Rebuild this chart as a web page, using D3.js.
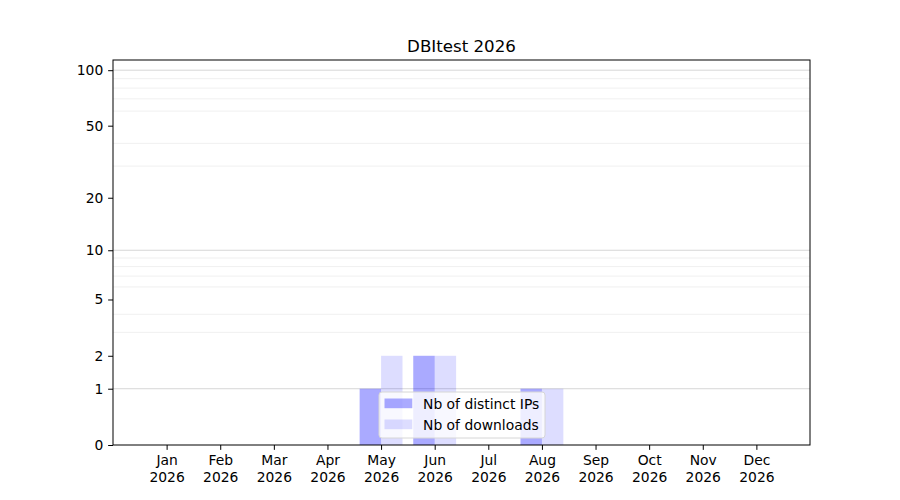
<!DOCTYPE html>
<html>
<head>
<meta charset="utf-8">
<script src="https://cdn.jsdelivr.net/npm/d3@7"></script>
<style>
  body { margin: 0; background: #fff; }
  svg { font-family: "DejaVu Sans", sans-serif; }
</style>
</head>
<body>
<div id="chart"></div>
<script>
// chart data
const title = 'DBItest 2026';
const months = ['Jan', 'Feb', 'Mar', 'Apr', 'May', 'Jun', 'Jul', 'Aug', 'Sep', 'Oct', 'Nov', 'Dec'];
const year = '2026';
const distinctIPs = [0, 0, 0, 0, 1, 2, 0, 1, 0, 0, 0, 0];
const downloads = [0, 0, 0, 0, 2, 2, 0, 1, 0, 0, 0, 0];
const yTicks = [0, 1, 2, 5, 10, 20, 50, 100];
const yMinor = [3, 4, 6, 7, 8, 9, 30, 40, 60, 70, 80, 90];
const yMajorGrid = [1, 10, 100];
const seriesNames = ['Nb of distinct IPs', 'Nb of downloads'];

const width = 900, height = 500;
const margin = {top: 60, right: 90, bottom: 55, left: 113};
const fs = 13.89;

const svg = d3.select('#chart').append('svg')
  .attr('width', width).attr('height', height);

// x is month index, y is log10(v + 1)
const x = d3.scaleLinear().domain([-1, 12]).range([margin.left, width - margin.right]);
const yl = d3.scaleLinear().domain([0, Math.log10(114.5)]).range([height - margin.bottom, margin.top]);
const y = v => yl(Math.log10(v + 1));
const barW = 0.4;

// grid
svg.append('g').selectAll('line.minor').data(yMinor).join('line')
  .attr('x1', margin.left).attr('x2', width - margin.right)
  .attr('y1', d => y(d)).attr('y2', d => y(d))
  .attr('stroke', '#ececec').attr('stroke-width', 0.8);
svg.append('g').selectAll('line.major').data(yMajorGrid).join('line')
  .attr('x1', margin.left).attr('x2', width - margin.right)
  .attr('y1', d => y(d)).attr('y2', d => y(d))
  .attr('stroke', '#cccccc').attr('stroke-width', 0.8);

// bars
const bars = svg.append('g');
bars.selectAll('rect.ip').data(distinctIPs).join('rect')
  .attr('x', (d, i) => x(i - barW)).attr('width', x(barW) - x(0))
  .attr('y', d => y(d)).attr('height', d => y(0) - y(d))
  .attr('fill', 'blue').attr('fill-opacity', 0.333);
bars.selectAll('rect.dl').data(downloads).join('rect')
  .attr('x', (d, i) => x(i)).attr('width', x(barW) - x(0))
  .attr('y', d => y(d)).attr('height', d => y(0) - y(d))
  .attr('fill', 'blue').attr('fill-opacity', 0.133);

// axes
const xAxis = d3.axisBottom(x).tickValues(d3.range(12)).tickSize(4.86).tickPadding(4.86)
  .tickFormat(() => '');
const gx = svg.append('g').attr('transform', `translate(0,${height - margin.bottom})`).call(xAxis);
gx.select('.domain').remove();
gx.selectAll('.tick text').each(function(d) {
  const t = d3.select(this).attr('font-size', fs).attr('fill', '#000').attr('font-family', 'DejaVu Sans');
  t.append('tspan').attr('x', 0).attr('dy', '0.76em').text(months[d]);
  t.append('tspan').attr('x', 0).attr('dy', '1.18em').text(year);
});

const yAxis = d3.axisLeft(yl).tickValues(yTicks.map(v => Math.log10(v + 1)))
  .tickFormat((d, i) => yTicks[i]).tickSize(4.86).tickPadding(4.86);
const gy = svg.append('g').attr('transform', `translate(${margin.left},0)`).call(yAxis);
gy.select('.domain').remove();
gy.selectAll('.tick text').attr('font-size', fs).attr('fill', '#000').attr('font-family', 'DejaVu Sans');

// frame
svg.append('rect')
  .attr('x', margin.left).attr('y', margin.top)
  .attr('width', width - margin.left - margin.right)
  .attr('height', height - margin.top - margin.bottom)
  .attr('fill', 'none').attr('stroke', '#000').attr('stroke-width', 1);

// title
svg.append('text')
  .attr('x', (margin.left + width - margin.right) / 2).attr('y', 52)
  .attr('text-anchor', 'middle').attr('font-size', 16.67).attr('fill', '#000')
  .text(title);

// legend, lower center
const lg = svg.append('g').attr('transform', 'translate(379,392)');
lg.append('rect').attr('width', 166).attr('height', 46).attr('rx', 3)
  .attr('fill', '#fff').attr('fill-opacity', 0.8).attr('stroke', '#d6d6d6');
const legendOpacity = [0.333, 0.133];
seriesNames.forEach((name, i) => {
  lg.append('rect').attr('x', 5.5).attr('y', 6.5 + i * 21).attr('width', 27.8).attr('height', 9.7)
    .attr('fill', 'blue').attr('fill-opacity', legendOpacity[i]);
  lg.append('text').attr('x', 44).attr('y', 16.5 + i * 21)
    .attr('font-size', fs).attr('fill', '#000').text(name);
});
</script>
</body>
</html>
